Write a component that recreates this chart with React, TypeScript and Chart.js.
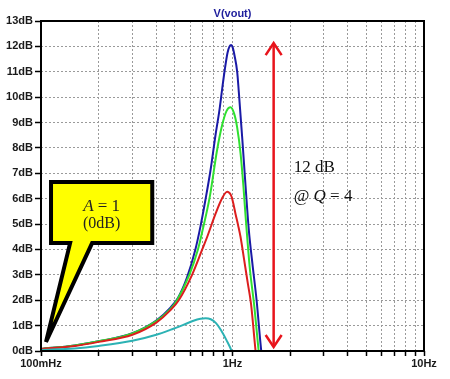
import React, { useEffect, useRef } from 'react';
import { Chart, registerables } from 'chart.js';

Chart.register(...registerables);

// ---- data (frequency in Hz, gain in dB) ----
const blueFreq = [0.1, 0.15, 0.2, 0.3, 0.4, 0.473, 0.52, 0.579, 0.64, 0.68, 0.722, 0.767, 0.815, 0.855, 0.884, 0.912, 0.942, 0.965, 0.984, 1.003, 1.024, 1.058, 1.079, 1.101, 1.125, 1.17, 1.217, 1.27, 1.336, 1.413, 1.5];
const blueDb = [0.08, 0.22, 0.38, 0.7, 1.2, 1.7, 2.1, 2.9, 4.0, 4.9, 5.95, 7.1, 8.5, 9.5, 10.35, 11.1, 11.75, 12.0, 12.05, 11.95, 11.65, 11.0, 10.2, 9.3, 8.35, 6.5, 4.76, 3.45, 2.0, 0.0, -1.5];

const greenFreq = [0.1, 0.15, 0.2, 0.3, 0.4, 0.473, 0.513, 0.595, 0.66, 0.69, 0.762, 0.83, 0.883, 0.93, 0.976, 1.02, 1.058, 1.101, 1.14, 1.168, 1.23, 1.3, 1.37, 1.45];
const greenDb = [0.08, 0.22, 0.38, 0.69, 1.18, 1.65, 2.0, 3.0, 4.0, 4.6, 6.1, 7.9, 8.9, 9.45, 9.6, 9.35, 8.8, 7.8, 6.5, 5.4, 3.3, 1.75, 0.0, -1.5];

const redFreq = [0.1, 0.15, 0.2, 0.3, 0.4, 0.473, 0.524, 0.615, 0.695, 0.738, 0.815, 0.88, 0.938, 0.98, 1.0, 1.037, 1.07, 1.101, 1.15, 1.2, 1.25, 1.32, 1.4];
const redDb = [0.08, 0.2, 0.36, 0.64, 1.12, 1.6, 2.0, 3.0, 4.0, 4.5, 5.4, 6.0, 6.27, 6.15, 5.95, 5.4, 4.95, 4.5, 3.6, 2.7, 1.85, 0.0, -1.5];

const cyanFreq = [0.1, 0.15, 0.2, 0.3, 0.4, 0.473, 0.55, 0.62, 0.68, 0.724, 0.77, 0.82, 0.87, 0.93, 0.99, 1.05];
const cyanDb = [0.04, 0.1, 0.2, 0.4, 0.64, 0.83, 1.02, 1.18, 1.27, 1.29, 1.25, 1.1, 0.83, 0.43, 0.0, -0.6];

const xTickValues = [0.1, 0.2, 0.3, 0.4, 0.5, 0.6, 0.7, 0.8, 0.9, 1, 2, 3, 4, 5, 6, 7, 8, 9, 10];
const xTickLabelValues = [0.1, 1, 10];
const xTickLabelTexts = ['100mHz', '1Hz', '10Hz'];
const yMin = 0;
const yMax = 13;
const yUnit = 'dB';
const chartTitle = 'V(vout)';

// annotation anchors (in data units)
const arrowFreq = 1.64;
const arrowTopDb = 12.13;
const arrowBottomDb = 0.16;
const arrowLabel1 = '12 dB';
const arrowLabel2Pre = '@ ';
const arrowLabel2Var = 'Q';
const arrowLabel2Post = ' = 4';

const calloutLeftF = 0.1128;
const calloutRightF = 0.381;
const calloutTopDb = 6.66;
const calloutBottomDb = 4.25;
const calloutTailLeftF = 0.1419;
const calloutTailRightF = 0.1849;
const calloutTipF = 0.1062;
const calloutTipDb = 0.355;
const calloutVar = 'A';
const calloutEq = ' = 1';
const calloutSub = '(0dB)';

const toPts = (f: number[], v: number[]) => f.map((x, i) => ({ x, y: v[i] }));

const SERIF = "'Liberation Serif', 'Times New Roman', serif";
const SANS = "'Liberation Sans', Arial, sans-serif";

const overlayPlugin = {
  id: 'overlay',
  afterDraw(chart: any) {
    const { ctx, chartArea } = chart;
    const xs = chart.scales.x;
    const ys = chart.scales.y;
    ctx.save();

    // frame
    ctx.strokeStyle = '#000';
    ctx.lineWidth = 2;
    ctx.strokeRect(chartArea.left, chartArea.top, chartArea.right - chartArea.left, chartArea.bottom - chartArea.top);

    // title
    ctx.fillStyle = '#1e1e9c';
    ctx.font = `bold 11px ${SANS}`;
    ctx.textAlign = 'center';
    ctx.textBaseline = 'alphabetic';
    ctx.fillText(chartTitle, (chartArea.left + chartArea.right) / 2, chartArea.top - 4);

    // red double arrow
    const ax = xs.getPixelForValue(arrowFreq);
    const ayTop = ys.getPixelForValue(arrowTopDb);
    const ayBot = ys.getPixelForValue(arrowBottomDb);
    ctx.strokeStyle = '#e8141c';
    ctx.lineWidth = 2.5;
    ctx.lineCap = 'butt';
    ctx.lineJoin = 'miter';
    ctx.beginPath();
    ctx.moveTo(ax, ayTop + 1);
    ctx.lineTo(ax, ayBot - 1);
    ctx.stroke();
    ctx.beginPath();
    ctx.moveTo(ax - 8, ayTop + 12);
    ctx.lineTo(ax, ayTop);
    ctx.lineTo(ax + 8, ayTop + 12);
    ctx.stroke();
    ctx.beginPath();
    ctx.moveTo(ax - 8, ayBot - 12);
    ctx.lineTo(ax, ayBot);
    ctx.lineTo(ax + 8, ayBot - 12);
    ctx.stroke();

    // arrow labels
    ctx.fillStyle = '#111';
    ctx.textAlign = 'left';
    const tx = ax + 20;
    ctx.font = `17px ${SERIF}`;
    ctx.fillText(arrowLabel1, tx, ys.getPixelForValue(7.07));
    const by2 = ys.getPixelForValue(5.89);
    let cx = tx;
    ctx.font = `17px ${SERIF}`;
    ctx.fillText(arrowLabel2Pre, cx, by2);
    cx += ctx.measureText(arrowLabel2Pre).width;
    ctx.font = `italic 17px ${SERIF}`;
    ctx.fillText(arrowLabel2Var, cx, by2);
    cx += ctx.measureText(arrowLabel2Var).width;
    ctx.font = `17px ${SERIF}`;
    ctx.fillText(arrowLabel2Post, cx, by2);

    // callout
    const L = xs.getPixelForValue(calloutLeftF);
    const R = xs.getPixelForValue(calloutRightF);
    const T = ys.getPixelForValue(calloutTopDb);
    const B = ys.getPixelForValue(calloutBottomDb);
    const TL = xs.getPixelForValue(calloutTailLeftF);
    const TR = xs.getPixelForValue(calloutTailRightF);
    const PX = xs.getPixelForValue(calloutTipF);
    const PY = ys.getPixelForValue(calloutTipDb);
    ctx.beginPath();
    ctx.moveTo(L, T);
    ctx.lineTo(R, T);
    ctx.lineTo(R, B);
    ctx.lineTo(TR, B);
    ctx.lineTo(PX, PY);
    ctx.lineTo(TL, B);
    ctx.lineTo(L, B);
    ctx.closePath();
    ctx.fillStyle = '#ffff00';
    ctx.fill();
    ctx.strokeStyle = '#000';
    ctx.lineWidth = 4;
    ctx.lineJoin = 'miter';
    ctx.miterLimit = 10;
    ctx.stroke();

    const ccx = (L + R) / 2;
    ctx.fillStyle = '#222';
    ctx.font = `italic 17px ${SERIF}`;
    const wA = ctx.measureText(calloutVar).width;
    ctx.font = `17px ${SERIF}`;
    const wE = ctx.measureText(calloutEq).width;
    let sx = ccx - (wA + wE) / 2;
    ctx.textAlign = 'left';
    ctx.font = `italic 17px ${SERIF}`;
    ctx.fillText(calloutVar, sx, T + 29);
    sx += wA;
    ctx.font = `17px ${SERIF}`;
    ctx.fillText(calloutEq, sx, T + 29);
    ctx.textAlign = 'center';
    ctx.font = `16px ${SERIF}`;
    ctx.fillText(calloutSub, ccx, T + 46);

    ctx.restore();
  },
};

export default function App() {
  const ref = useRef<HTMLCanvasElement | null>(null);

  useEffect(() => {
    if (!ref.current) return;
    const lineDs = (label: string, f: number[], v: number[], color: string) => ({
      label,
      data: toPts(f, v),
      borderColor: color,
      backgroundColor: color,
      borderWidth: 2,
      pointRadius: 0,
      cubicInterpolationMode: 'monotone' as const,
      fill: false,
    });
    const chart = new Chart(ref.current, {
      type: 'line',
      data: {
        datasets: [
          lineDs('cyan', cyanFreq, cyanDb, '#2cb2b4'),
          lineDs('red', redFreq, redDb, '#dc1e1e'),
          lineDs('green', greenFreq, greenDb, '#30e030'),
          lineDs('blue', blueFreq, blueDb, '#1a1aa6'),
        ],
      },
      options: {
        animation: false,
        responsive: false,
        devicePixelRatio: 1,
        parsing: true,
        layout: { padding: { top: 21, right: 26, bottom: 0, left: 0 } },
        plugins: {
          legend: { display: false },
          tooltip: { enabled: false },
          title: { display: false },
        },
        scales: {
          x: {
            type: 'logarithmic',
            min: 0.1,
            max: 10,
            afterBuildTicks: (scale: any) => {
              scale.ticks = xTickValues.map((v) => ({ value: v }));
            },
            afterFit: (scale: any) => {
              scale.height = 28;
            },
            ticks: {
              autoSkip: false,
              maxRotation: 0,
              minRotation: 0,
              padding: 1,
              color: '#1a1a1a',
              font: { family: SANS, size: 11, weight: 'bold' },
              callback: (value: any) => {
                const i = xTickLabelValues.findIndex((t) => Math.abs(t - Number(value)) < 1e-6 * t);
                return i >= 0 ? xTickLabelTexts[i] : '';
              },
            },
            grid: {
              color: '#9a9a9a',
              lineWidth: 1,
              tickColor: '#000',
              tickWidth: 1.5,
              tickLength: 5,
              tickBorderDash: [],
            },
            border: { display: false, dash: [2, 2] },
          },
          y: {
            type: 'linear',
            min: yMin,
            max: yMax,
            afterFit: (scale: any) => {
              scale.width = 41;
            },
            ticks: {
              stepSize: 1,
              padding: 2,
              color: '#1a1a1a',
              font: { family: SANS, size: 11, weight: 'bold' },
              callback: (value: any) => `${value}${yUnit}`,
            },
            grid: {
              color: '#9a9a9a',
              lineWidth: 1,
              tickColor: '#000',
              tickWidth: 1.5,
              tickLength: 6,
              tickBorderDash: [],
            },
            border: { display: false, dash: [2, 2] },
          },
        },
      } as any,
      plugins: [overlayPlugin],
    });
    return () => chart.destroy();
  }, []);

  return (
    <div style={{ position: 'fixed', left: 0, top: 0, width: 450, height: 379, background: '#fff' }}>
      <canvas ref={ref} width={450} height={379} style={{ display: 'block', width: 450, height: 379 }} />
    </div>
  );
}
